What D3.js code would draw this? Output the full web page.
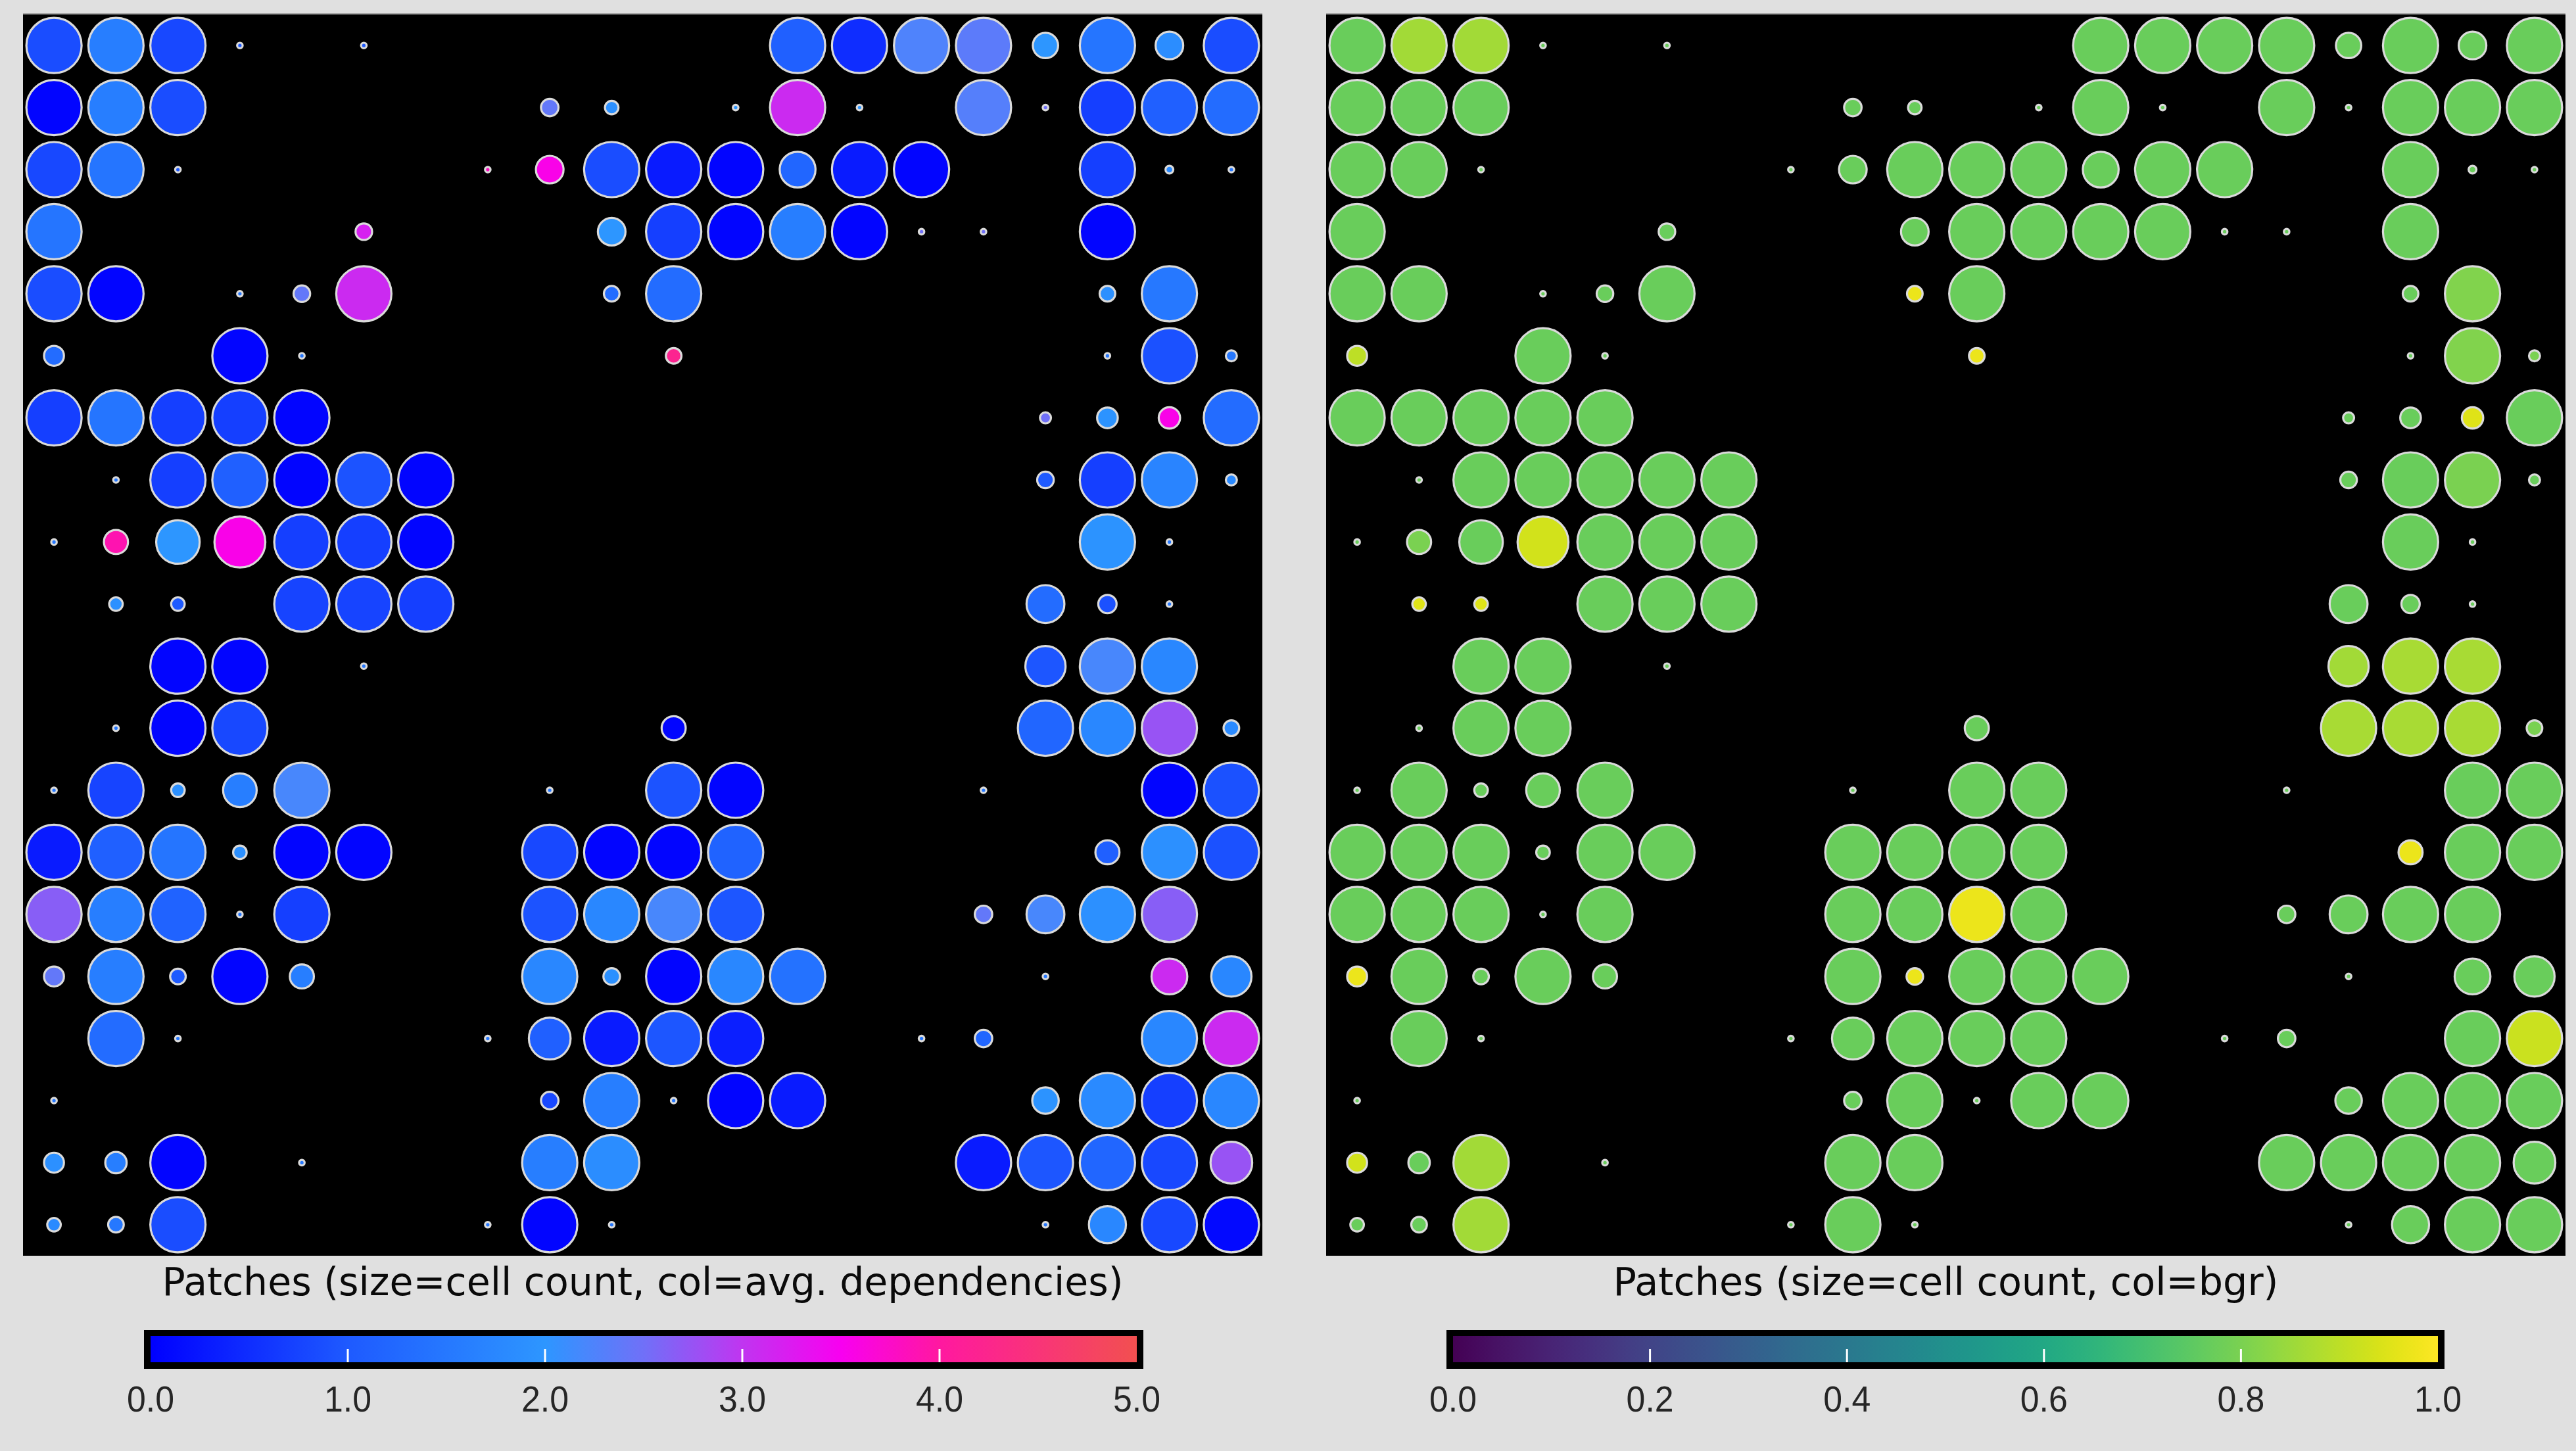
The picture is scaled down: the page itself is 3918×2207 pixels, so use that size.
<!DOCTYPE html>
<html>
<head>
<meta charset="utf-8">
<script src="https://cdn.jsdelivr.net/npm/d3@7"></script>
<style>
  html, body { margin: 0; padding: 0; background: #e0e0e0; }
  svg { display: block; }
</style>
</head>
<body>
<svg id="chart"></svg>
<script>
// Patch grid: 20 x 20 patches, row-major (row 0 at the top)
const gridRows = d3.range(20);
const gridCols = d3.range(20);

// Number of cells in each patch (0 = empty patch)
const cellCount = [
  [100,100,100,1,0,1,0,0,0,0,0,0,100,100,100,100,21,100,25,100],
  [100,100,100,0,0,0,0,0,10,6,0,1,100,1,0,100,1,100,100,100],
  [100,100,1,0,0,0,0,1,25,100,100,100,42,100,100,0,0,100,2,1],
  [100,0,0,0,0,9,0,0,0,25,100,100,100,100,1,1,0,100,0,0],
  [100,100,0,1,9,100,0,0,0,8,100,0,0,0,0,0,0,8,100,0],
  [13,0,0,100,1,0,0,0,0,0,8,0,0,0,0,0,0,1,100,4],
  [100,100,100,100,100,0,0,0,0,0,0,0,0,0,0,0,4,14,15,100],
  [0,1,100,100,100,100,100,0,0,0,0,0,0,0,0,0,9,100,100,4],
  [1,19,62,85,100,100,100,0,0,0,0,0,0,0,0,0,0,100,1,0],
  [0,6,6,0,100,100,100,0,0,0,0,0,0,0,0,0,47,11,1,0],
  [0,0,100,100,0,1,0,0,0,0,0,0,0,0,0,0,53,100,100,0],
  [0,1,100,100,0,0,0,0,0,0,19,0,0,0,0,0,100,100,100,8],
  [1,100,6,37,100,0,0,0,1,0,100,100,0,0,0,1,0,0,100,100],
  [100,100,100,6,100,100,0,0,100,100,100,100,0,0,0,0,0,19,100,100],
  [100,100,100,1,100,0,0,0,100,100,100,100,0,0,0,10,47,100,100,0],
  [13,100,8,100,19,0,0,0,100,9,100,100,100,0,0,0,1,0,42,53],
  [0,100,1,0,0,0,0,1,57,100,100,100,0,0,1,10,0,0,100,100],
  [1,0,0,0,0,0,0,0,10,100,1,100,100,0,0,0,23,100,100,100],
  [13,15,100,0,1,0,0,0,100,100,0,0,0,0,0,100,100,100,100,57],
  [6,8,100,0,0,0,0,1,100,1,0,0,0,0,0,0,1,45,100,100]
];

// Average number of dependencies per patch
const avgDependencies = [
  [0.85,1.6,0.8,1.0,0,1.0,0,0,0,0,0,0,1.1,0.5,2.25,2.35,2.0,1.45,1.85,0.85],
  [0.05,1.6,0.85,0,0,0,0,0,2.4,1.9,0,2.0,3.1,2.0,0,2.3,2.5,0.7,1.1,1.3],
  [0.8,1.45,1.0,0,0,0,0,3.8,3.55,0.85,0.3,0.05,1.2,0.3,0.05,0,0,0.7,1.8,1.5],
  [1.45,0,0,0,0,3.2,0,0,0,2.0,0.7,0.05,1.6,0.05,2.5,2.5,0,0.05,0,0],
  [0.85,0.05,0,1.5,2.4,3.1,0,0,0,1.3,1.3,0,0,0,0,0,0,1.9,1.5,0],
  [1.3,0,0,0.05,1.5,0,0,0,0,0,4.2,0,0,0,0,0,0,1.5,0.9,1.5],
  [0.7,1.45,0.7,0.7,0.05,0,0,0,0,0,0,0,0,0,0,0,2.5,1.95,3.55,1.3],
  [0,1.5,0.7,1.1,0.05,0.92,0.05,0,0,0,0,0,0,0,0,0,1.0,0.7,1.7,1.8],
  [1.5,3.9,2.0,3.55,0.7,0.7,0.05,0,0,0,0,0,0,0,0,0,0,1.95,1.5,0],
  [0,1.9,1.0,0,0.75,0.75,0.7,0,0,0,0,0,0,0,0,0,1.3,0.9,1.5,0],
  [0,0,0.05,0.05,0,1.5,0,0,0,0,0,0,0,0,0,0,0.95,2.2,1.75,0],
  [0,1.5,0.05,0.8,0,0,0,0,0,0,0.05,0,0,0,0,0,1.2,1.75,2.75,1.8],
  [1.5,0.75,1.9,1.6,2.2,0,0,0,1.5,0,0.92,0.05,0,0,0,1.5,0,0,0.05,0.9],
  [0.3,1.1,1.45,1.9,0.05,0.05,0,0,0.8,0.05,0.05,1.15,0,0,0,0,0,1.1,1.9,0.9],
  [2.65,1.6,1.15,1.5,0.7,0,0,0,0.92,1.75,2.2,0.95,0,0,0,2.4,2.2,1.9,2.65,0],
  [2.4,1.6,1.0,0.05,1.6,0,0,0,1.75,1.9,0.05,1.75,1.4,0,0,0,1.5,0,3.1,1.75],
  [0,1.3,1.5,0,0,0,0,1.5,1.1,0.3,0.95,0.35,0,0,1.5,1.2,0,0,1.75,3.1],
  [1.5,0,0,0,0,0,0,0,0.8,1.6,1.5,0.05,0.3,0,0,0,1.95,1.8,0.7,1.75],
  [1.9,1.6,0.05,0,1.5,0,0,0,1.6,1.85,0,0,0,0,0,0.3,0.95,1.2,0.8,2.75],
  [1.8,1.5,0.85,0,0,0,0,1.5,0.05,1.5,0,0,0,0,0,0,1.5,1.75,0.8,0.1]
];

// Background-growth ratio (bgr) per patch
const bgr = [
  [0.77,0.86,0.86,0.77,0,0.77,0,0,0,0,0,0,0.77,0.77,0.77,0.77,0.77,0.77,0.77,0.77],
  [0.77,0.77,0.77,0,0,0,0,0,0.77,0.77,0,0.77,0.77,0.77,0,0.77,0.77,0.77,0.77,0.77],
  [0.77,0.77,0.77,0,0,0,0,0.77,0.77,0.77,0.77,0.77,0.77,0.77,0.77,0,0,0.77,0.77,0.77],
  [0.77,0,0,0,0,0.77,0,0,0,0.77,0.77,0.77,0.77,0.77,0.77,0.77,0,0.77,0,0],
  [0.77,0.77,0,0.77,0.77,0.77,0,0,0,0.97,0.77,0,0,0,0,0,0,0.77,0.81,0],
  [0.9,0,0,0.77,0.77,0,0,0,0,0,0.97,0,0,0,0,0,0,0.77,0.81,0.8],
  [0.77,0.77,0.77,0.77,0.77,0,0,0,0,0,0,0,0,0,0,0,0.77,0.77,0.95,0.77],
  [0,0.77,0.77,0.77,0.77,0.77,0.77,0,0,0,0,0,0,0,0,0,0.77,0.77,0.8,0.77],
  [0.77,0.8,0.77,0.93,0.77,0.77,0.77,0,0,0,0,0,0,0,0,0,0,0.77,0.77,0],
  [0,0.95,0.95,0,0.77,0.77,0.77,0,0,0,0,0,0,0,0,0,0.77,0.77,0.77,0],
  [0,0,0.77,0.77,0,0.77,0,0,0,0,0,0,0,0,0,0,0.86,0.87,0.87,0],
  [0,0.77,0.77,0.77,0,0,0,0,0,0,0.77,0,0,0,0,0,0.87,0.87,0.87,0.8],
  [0.77,0.77,0.77,0.77,0.77,0,0,0,0.77,0,0.77,0.77,0,0,0,0.77,0,0,0.77,0.77],
  [0.77,0.77,0.77,0.77,0.77,0.77,0,0,0.77,0.77,0.77,0.77,0,0,0,0,0,0.97,0.77,0.77],
  [0.77,0.77,0.77,0.77,0.77,0,0,0,0.77,0.77,0.97,0.77,0,0,0,0.77,0.77,0.77,0.77,0],
  [0.97,0.77,0.77,0.77,0.77,0,0,0,0.77,0.97,0.77,0.77,0.77,0,0,0,0.77,0,0.77,0.77],
  [0,0.77,0.77,0,0,0,0,0.77,0.77,0.77,0.77,0.77,0,0,0.77,0.77,0,0,0.77,0.92],
  [0.77,0,0,0,0,0,0,0,0.77,0.77,0.77,0.77,0.77,0,0,0,0.77,0.77,0.77,0.77],
  [0.93,0.77,0.86,0,0.77,0,0,0,0.77,0.77,0,0,0,0,0,0.77,0.77,0.77,0.77,0.77],
  [0.77,0.77,0.86,0,0,0,0,0.77,0.77,0.77,0,0,0,0,0,0,0.77,0.77,0.77,0.77]
];

// Colour-bar tick labels
const depTicks = [0, 1, 2, 3, 4, 5];
const bgrTicks = [0, 0.2, 0.4, 0.6, 0.8, 1.0];

// Panel titles
const titles = [
  "Patches (size=cell count, col=avg. dependencies)",
  "Patches (size=cell count, col=bgr)"
];

// Colour ramp for dependencies: blue -> light blue -> purple -> magenta -> red
const depStops = [0, 1, 2, 2.5, 3, 3.5, 4, 5];
const depStopColors = ["#0000ff", "#1e5aff", "#2d96ff", "#7070f8", "#c035f0", "#f800f0", "#ff18a0", "#f25050"];

const W = 3918, H = 2207;
const svg = d3.select("#chart").attr("width", W).attr("height", H);
svg.append("rect").attr("width", W).attr("height", H).attr("fill", "#e0e0e0");

const depColor = d3.scaleLinear().domain(depStops).range(depStopColors).interpolate(d3.interpolateRgb).clamp(true);
const bgrColor = d3.scaleSequential(d3.interpolateViridis).domain([0, 1]);
const radius = d3.scaleSqrt().domain([0, 100]).range([0, 42]);

const panels = [
  { x0: 35, x1: 1920, values: avgDependencies, color: depColor, domain: [0, 5], ticks: depTicks, fmt: d3.format(".1f"),
    bar: [229, 1729], title: titles[0], titleLen: 1462, id: "dep" },
  { x0: 2017, x1: 3902, values: bgr, color: bgrColor, domain: [0, 1], ticks: bgrTicks, fmt: d3.format(".1f"),
    bar: [2210, 3708], title: titles[1], titleLen: 1012, id: "bgr" }
];

const y0 = 22, y1 = 1910;
const defs = svg.append("defs");

panels.forEach(p => {
  const g = svg.append("g");
  g.append("rect").attr("x", p.x0).attr("y", y0).attr("width", p.x1 - p.x0).attr("height", y1 - y0).attr("fill", "#000");
  g.append("line").attr("x1", p.x0).attr("x2", p.x1).attr("y1", y0 - 1).attr("y2", y0 - 1)
    .attr("stroke", "#a8a8a8").attr("stroke-width", 2);

  const x = d3.scaleBand().domain(gridCols).range([p.x0, p.x1]);
  const y = d3.scaleBand().domain(gridRows).range([y0, y1]);

  const cells = [];
  gridRows.forEach(r => gridCols.forEach(c => {
    if (cellCount[r][c] > 0) cells.push({ r, c, n: cellCount[r][c], v: p.values[r][c] });
  }));

  g.selectAll("circle.patch").data(cells).join("circle")
    .attr("class", "patch")
    .attr("cx", d => x(d.c) + x.bandwidth() / 2)
    .attr("cy", d => y(d.r) + y.bandwidth() / 2)
    .attr("r", d => Math.max(radius(d.n), 3))
    .attr("fill", d => p.color(d.v))
    .attr("stroke", "#dadada")
    .attr("stroke-width", 3.2);

  const cx = (p.x0 + p.x1) / 2;
  g.append("text").attr("x", cx).attr("y", 1970).attr("text-anchor", "middle")
    .attr("font-family", "'DejaVu Sans', 'Liberation Sans', sans-serif").attr("font-size", 58).attr("fill", "#0a0a0a")
    .attr("textLength", p.titleLen).attr("lengthAdjust", "spacingAndGlyphs")
    .text(p.title);

  // Colour bar
  const bx = d3.scaleLinear().domain(p.domain).range(p.bar);
  const grad = defs.append("linearGradient").attr("id", "grad-" + p.id)
    .attr("x1", "0%").attr("x2", "100%").attr("y1", "0%").attr("y2", "0%");
  d3.range(0, 1.0001, 0.02).forEach(t => {
    const v = p.domain[0] + t * (p.domain[1] - p.domain[0]);
    grad.append("stop").attr("offset", (t * 100) + "%").attr("stop-color", p.color(v));
  });
  g.append("rect").attr("x", p.bar[0] - 10).attr("y", 2023).attr("width", p.bar[1] - p.bar[0] + 20).attr("height", 59)
    .attr("fill", "#000");
  g.append("rect").attr("x", p.bar[0]).attr("y", 2032).attr("width", p.bar[1] - p.bar[0]).attr("height", 40)
    .attr("fill", "url(#grad-" + p.id + ")");
  g.selectAll("line.tick").data(p.ticks.slice(1, -1)).join("line")
    .attr("class", "tick")
    .attr("x1", d => bx(d)).attr("x2", d => bx(d))
    .attr("y1", 2052).attr("y2", 2072)
    .attr("stroke", "#fff").attr("stroke-width", 3);
  g.selectAll("text.lbl").data(p.ticks).join("text")
    .attr("class", "lbl")
    .attr("x", d => bx(d)).attr("y", 2147)
    .attr("text-anchor", "middle")
    .attr("font-family", "'Liberation Sans', Arial, sans-serif").attr("font-size", 56).attr("fill", "#262626")
    .attr("textLength", 72).attr("lengthAdjust", "spacingAndGlyphs")
    .text(d => p.fmt(d));
});
</script>
</body>
</html>
